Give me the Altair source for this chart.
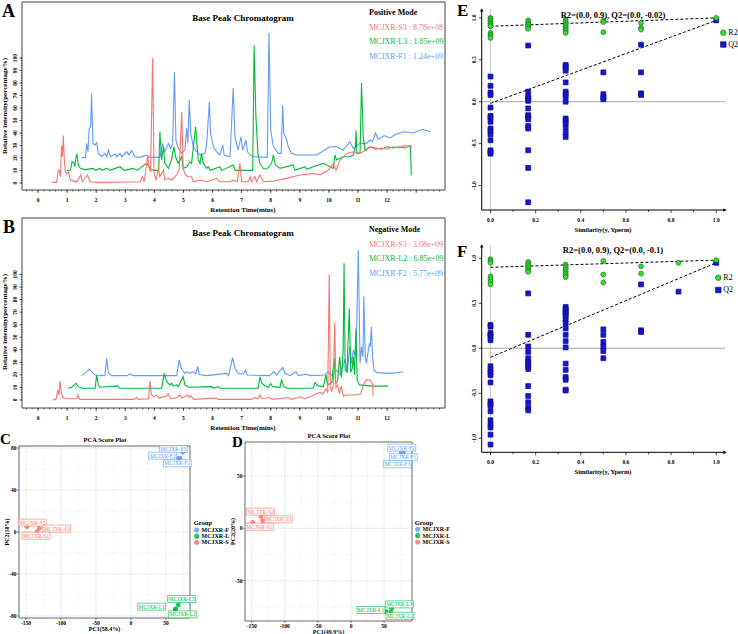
import altair as alt
import pandas as pd

W, H = 738, 634
SERIF = "Liberation Serif"
RED, GREEN, BLUE = "#F8766D", "#00BA38", "#619CFF"

# ---------------- Base peak chromatograms (time in min, relative intensity %) ----------------
# Positive mode
pos_s3_t = [0.47, 0.64, 0.70, 0.73, 0.77, 0.81, 0.84, 0.87, 0.90, 0.94, 0.99, 1.05, 1.11, 1.33, 1.47, 1.52, 1.70, 1.79,
            2.13, 3.51, 3.59, 3.65, 3.73, 3.77, 3.81, 3.87, 3.94, 3.99, 4.06, 4.14, 4.19, 4.31, 4.36, 4.48, 4.59, 4.77,
            4.86, 4.94, 4.99, 5.05, 5.13, 5.28, 5.34, 5.57, 5.80, 6.14, 6.25, 6.60, 6.71, 6.85, 6.94, 7.00, 7.23, 7.29,
            7.34, 7.46, 7.51, 7.63, 7.74, 8.09, 8.55, 9.00, 9.46, 9.69, 9.98, 10.15, 10.24, 10.38, 10.61, 10.84, 11.07,
            11.29, 11.41, 11.6, 11.8, 12.0, 12.2, 12.4, 12.6, 12.85]
pos_s3_i = [0.5, 0.5, 10.4, 9.9, 5, 30, 21, 38, 21, 9, 7, 9, 2.4, 0.8, 6.4, 1, 6.4, 1,
            0.5, 1, 5, 1, 14.4, 22.4, 13, 9, 100, 7.7, 2.4, 11.7, 5, 10.4, 2.4, 3.7, 2.4, 6.4,
            11.7, 57, 11.7, 7.7, 5, 5, 1, 2.4, 1, 3.7, 1, 1, 2.4, 1, 15.7, 1, 1, 5,
            1, 5, 1, 6.4, 1, 1.6, 3.7, 6.4, 7.7, 6.4, 10.4, 15.7, 10, 18.4, 23.7, 25, 23.7,
            26.4, 29, 27, 28, 27, 29, 28, 30, 29]
pos_l3_t = [0.99, 1.12, 1.17, 1.23, 1.26, 1.31, 1.34, 1.39, 1.47, 1.62, 1.90, 1.97, 2.13, 2.20, 2.36, 2.47, 2.82, 2.96,
            3.28, 3.41, 3.73, 3.85, 3.96, 4.15, 4.19, 4.25, 4.31, 4.36, 4.48, 4.59, 4.67, 4.73, 4.82, 4.94, 4.99, 5.11,
            5.22, 5.28, 5.34, 5.42, 5.45, 5.51, 5.57, 5.62, 5.68, 5.80, 5.85, 5.93, 6.25, 6.32, 6.71, 6.78, 7.38, 7.43,
            7.49, 7.56, 7.63, 7.74, 7.86, 8.03, 8.09, 8.16, 8.32, 8.77, 8.84, 9.18, 9.24, 9.46, 9.81, 10.03, 10.15,
            10.21, 10.26, 10.49, 10.72, 10.84, 10.91, 10.93, 10.96, 11.07, 11.12, 11.18, 11.24, 11.41, 11.6, 11.8,
            12.0, 12.2, 12.4, 12.6, 12.8, 12.83]
pos_l3_i = [10.1, 10.4, 17, 16.5, 13, 21, 23.2, 13.6, 11.5, 10.7, 11.7, 10.1, 11.7, 10.1, 11.7, 10.1, 13, 10.1,
            11.7, 10.1, 15.7, 11.7, 10.1, 10.1, 41, 18.4, 29, 15.7, 11.7, 18.4, 29, 21, 15.7, 21, 11.7, 13,
            17, 15.7, 29, 45, 34.4, 18.4, 15.7, 23.7, 15.7, 11.7, 13, 10.1, 13, 10.1, 14.4, 10.1, 10.1, 110,
            53, 23.7, 15.7, 11.7, 11, 15.7, 22.4, 14.4, 11.7, 14.4, 10.1, 13, 11, 13, 15.7, 13, 11.7,
            22.4, 18.4, 21, 21, 22.4, 29, 42, 23.7, 23.7, 80, 37, 26.4, 29, 28, 27, 29,
            28, 29, 28, 30, 6]
pos_f1_t = [1.50, 1.63, 1.67, 1.72, 1.76, 1.81, 1.84, 1.89, 1.96, 2.02, 2.07, 2.19, 2.30, 2.36, 2.42, 2.49, 2.65, 2.70,
            2.82, 2.88, 3.05, 3.12, 3.22, 3.33, 3.51, 3.73, 3.85, 4.19, 4.28, 4.36, 4.48, 4.56, 4.63, 4.69, 4.74, 4.82,
            4.94, 5.05, 5.11, 5.15, 5.20, 5.25, 5.34, 5.45, 5.57, 5.74, 5.80, 5.89, 5.93, 6.03, 6.14, 6.25, 6.35, 6.40,
            6.60, 6.71, 6.77, 6.88, 6.98, 7.03, 7.15, 7.20, 7.29, 7.40, 7.88, 7.94, 8.00, 8.09, 8.26, 8.36, 8.41, 8.45,
            8.55, 8.60, 8.72, 8.89, 9.58, 10.03, 10.26, 10.49, 10.72, 10.84, 11.07, 11.29, 11.41, 11.5, 11.6, 11.7,
            11.9, 12.1, 12.3, 12.6, 12.9, 13.2, 13.5]
pos_f1_i = [20.3, 20.3, 31.7, 25, 43.7, 45, 71, 31.7, 30.4, 32.3, 23.7, 21, 23.7, 21, 26.4, 21, 23.2, 21,
            23.7, 21, 25, 22.4, 25.9, 21, 20.5, 22.4, 20.5, 20.5, 31.7, 25, 31.7, 27.7, 31.7, 89, 34.4, 27.7,
            23.7, 26.4, 43.7, 31.7, 66.4, 39.7, 29, 25, 22.4, 23.7, 31.7, 65, 39.7, 29, 25, 22.4, 30.4, 22.4,
            21, 76, 37, 26.4, 37, 26.4, 34.4, 25, 22.4, 21, 20.5, 120, 42.4, 29, 23.7, 23.7, 62, 39.7,
            34.4, 29, 23.7, 22.4, 22.4, 29, 29, 26.4, 33, 27.7, 31.7, 31.7, 34.4, 33, 40, 35,
            38, 36, 39, 41, 40, 43, 41]

# Negative mode
neg_s3_t = [0.50, 0.62, 0.68, 0.72, 0.76, 0.80, 0.85, 1.00, 1.33, 1.38, 1.43, 3.30, 3.39, 3.45, 3.80, 3.85, 3.90, 4.00,
            4.07, 4.15, 4.40, 4.47, 4.55, 4.80, 4.86, 4.95, 5.15, 5.20, 5.25, 5.35, 6.10, 6.20, 7.35, 7.45, 7.55, 7.63,
            7.70, 7.95, 8.05, 8.60, 8.70, 9.05, 9.15, 9.40, 9.55, 9.70, 9.80, 9.90, 9.96, 10.01, 10.05, 10.10, 10.15,
            10.20, 10.24, 10.30, 10.36, 10.42, 10.50, 10.60, 10.90, 11.10, 11.18, 11.28, 11.40, 11.50, 11.52]
neg_s3_i = [0, 0.5, 8, 4, 15, 6, 2, 1, 1, 4, 0.5, 0.5, 2, 0.5, 1, 15, 4, 2.5,
            4, 1.5, 3, 5, 1, 2, 4, 1.5, 4, 2, 3.5, 0.5, 1.5, 0.5, 0.5, 2, 1, 4,
            1, 2, 0.5, 2, 0.5, 2.5, 1, 3, 5, 6, 5, 9, 6, 100, 10, 7, 12,
            62, 10, 12, 5, 11, 3, 4, 4, 5, 12, 16, 16, 13, 3]
neg_l2_t = [1.04, 1.16, 1.24, 1.31, 1.39, 1.50, 1.96, 2.02, 2.07, 2.13, 2.73, 2.82, 4.25, 4.34, 4.42, 4.54, 4.59, 4.65,
            4.77, 4.82, 4.99, 5.05, 5.17, 5.97, 6.03, 6.20, 6.25, 7.57, 7.63, 7.69, 7.80, 7.92, 8.00, 8.06, 8.32, 8.37,
            8.43, 8.55, 9.46, 9.52, 9.63, 9.81, 9.90, 9.95, 10.03, 10.10, 10.18, 10.23, 10.30, 10.37, 10.43, 10.49,
            10.52, 10.56, 10.62, 10.70, 10.75, 10.80, 10.84, 10.88, 10.93, 10.97, 11.05, 11.5, 12.04]
neg_l2_i = [9.3, 10.1, 12, 13.3, 10.6, 9.3, 9.3, 19.9, 12, 10.1, 11.2, 9.3, 9.3, 21.2, 14.6, 12, 13.3, 11.2,
            12, 10.6, 18.6, 12, 10.1, 10.6, 9.3, 10.6, 9.3, 9.3, 18.6, 13.3, 11.2, 10.1, 13.3, 10.6, 10.1, 16.5,
            11.2, 9.3, 9.3, 13.8, 11.2, 10.6, 20, 12, 13, 14, 33, 13, 15, 34.5, 18, 40,
            109, 24, 22, 73, 22, 25, 34.5, 20, 57, 16, 12, 11, 11]
neg_f2_t = [1.50, 1.67, 1.76, 1.84, 1.96, 2.30, 2.36, 2.42, 2.53, 3.05, 3.16, 3.28, 4.77, 4.85, 4.94, 5.05, 5.11, 5.22,
            5.34, 5.42, 5.49, 5.54, 5.80, 6.48, 6.55, 6.69, 6.77, 6.88, 7.06, 7.14, 7.19, 7.97, 8.11, 8.20, 8.41, 8.49,
            8.66, 8.87, 8.95, 9.23, 9.35, 9.86, 9.98, 10.06, 10.26, 10.38, 10.55, 10.63, 10.72, 10.78, 10.84, 10.91,
            10.95, 11.01, 11.07, 11.12, 11.17, 11.20, 11.25, 11.29, 11.39, 11.42, 11.46, 11.50, 11.55, 11.64, 12.09,
            12.55]
neg_f2_i = [19.4, 22.6, 24.4, 22.6, 19.9, 19.4, 33.2, 21.8, 19.4, 19.4, 20.7, 19.4, 19.4, 31.9, 24.4, 21.2, 22.6, 21.2,
            22.6, 20.7, 26.6, 20.2, 19.4, 21.2, 19.4, 33.7, 25.2, 21.2, 20.5, 23.9, 19.9, 19.4, 22.6, 19.9, 26, 21.2,
            19.4, 22.6, 19.4, 20.5, 19.4, 19.9, 22.6, 19.4, 23.9, 20, 31.9, 22.6, 42.5, 29.2, 39.8, 34.5,
            53.1, 119.5, 29.2, 42.5, 34.5, 82.4, 34.5, 29.2, 45.1, 42.5, 58.4, 34.5, 23.9, 21.8, 21.2,
            22.3]

# ---------------- PCA scores ----------------
groups = ["MCJXR-F", "MCJXR-L", "MCJXR-S"]
pca_group = ["MCJXR-F"] * 3 + ["MCJXR-L"] * 3 + ["MCJXR-S"] * 3
pos_sample = ["MCJXR-F3", "MCJXR-F2", "MCJXR-F1", "MCJXR-L3", "MCJXR-L1", "MCJXR-L2", "MCJXR-S2", "MCJXR-S3", "MCJXR-S1"]
pos_pc1 = [73.9, 70.0, 67.6, 67.6, 63.8, 63.1, -149.0, -131.0, -134.0]
pos_pc2 = [75.9, 70.2, 70.0, -69.5, -73.3, -74.3, 5.0, 3.5, 0.3]
pos_lab1 = [60.5, 45.2, 66.2, 72.4, 29.5, 73.8, -141.0, -106.2, -135.7]
pos_lab2 = [79.0, 72.7, 65.4, -63.8, -71.1, -78.4, 8.9, 3.2, -3.5]
neg_sample = ["MCJXR-F2", "MCJXR-F1", "MCJXR-F3", "MCJXR-L3", "MCJXR-L1", "MCJXR-L2", "MCJXR-S2", "MCJXR-S3", "MCJXR-S1"]
neg_pc1 = [75.5, 79.0, 77.5, 61.5, 52.9, 60.4, -136.0, -133.4, -148.5]
neg_pc2 = [72.3, 72.6, 71.0, -76.5, -79.7, -80.3, 11.0, 7.0, 5.7]
neg_lab1 = [76.6, 79.0, 70.0, 73.0, 30.2, 74.0, -136.4, -109.8, -138.5]
neg_lab2 = [77.1, 67.9, 61.2, -72.7, -78.1, -83.6, 15.9, 8.6, 1.5]

# ---------------- Permutation tests ----------------
perm_series = ["R2", "Q2"]
perm_sim = [0.0, 0.167, 0.333, 0.5, 0.667, 0.833, 1.0]
pos_r2 = [[1.0, 0.99, 0.97, 0.96, 0.94, 0.93, 0.91, 0.90, 0.82, 0.80, 0.78, 0.76],
          [0.97, 0.95, 0.93, 0.92, 0.90, 0.88, 0.87],
          [0.98, 0.96, 0.94, 0.92, 0.90, 0.88, 0.86, 0.84, 0.82],
          [0.97, 0.95, 0.83],
          [0.94, 0.88, 0.86],
          [],
          [1.0]]
pos_q2 = [[0.30, 0.19, 0.11, 0.08, -0.07, -0.17, -0.19, -0.24, -0.32, -0.35, -0.39, -0.46, -0.58, -0.60, -0.62],
          [0.67, 0.12, 0.06, 0.04, 0.01, -0.08, -0.16, -0.18, -0.21, -0.29, -0.32, -0.58, -0.79, -1.20],
          [0.44, 0.42, 0.40, 0.37, 0.23, 0.12, 0.09, 0.06, 0.00, -0.20, -0.23, -0.26, -0.31, -0.37, -0.42],
          [0.35, 0.09, 0.05, 0.03],
          [0.68, 0.35, 0.10, 0.08],
          [],
          [0.97]]
pos_fit = {"R2": (0.90, 1.0), "Q2": (-0.02, 0.97)}
neg_r2 = [[0.99, 0.97, 0.95, 0.80, 0.77, 0.74, 0.71],
          [0.96, 0.94, 0.92, 0.90, 0.88, 0.86, 0.85],
          [0.93, 0.91, 0.89, 0.87, 0.85, 0.83, 0.81, 0.79],
          [0.97, 0.82, 0.73],
          [0.91, 0.83],
          [0.95],
          [0.98]]
neg_q2 = [[0.26, 0.24, 0.17, 0.15, 0.13, 0.09, -0.20, -0.24, -0.27, -0.30, -0.38, -0.59, -0.62, -0.64, -0.70,
           -0.80, -0.85, -0.88, -0.96, -1.07],
          [0.61, 0.15, 0.02, -0.04, -0.11, -0.15, -0.17, -0.20, -0.23, -0.42, -0.53, -0.60, -0.66, -0.69],
          [0.46, 0.44, 0.42, 0.40, 0.38, 0.36, 0.32, 0.28, 0.22, 0.15, 0.08, 0.01, -0.17, -0.24, -0.32, -0.35,
           -0.46, -0.47],
          [0.21, 0.15, 0.07, 0.02, -0.03, -0.11],
          [0.71, 0.20, 0.18],
          [0.63],
          [0.95]]
neg_fit = {"R2": (0.90, 0.98), "Q2": (-0.10, 0.95)}

# tick positions and their printed labels
ch_minor = [round(k * 0.2, 1) for k in range(-2, 70)]
ch_major = list(range(0, 14))
ch_xlab = list(range(0, 13))
ch_yminor = list(range(0, 101, 2))
ch_ymajor = list(range(0, 101, 10))
pca_xmaj = [-150, -100, -50, 0, 50]
pca_xmin = [-125, -75, -25, 25, 75]
perm_xmaj = [0.0, 0.2, 0.4, 0.6, 0.8, 1.0]
perm_xmin = [0.1, 0.3, 0.5, 0.7, 0.9]
perm_yticks = [-1.0, -0.5, 0.0, 0.5, 1.0]


# ---------------- helpers ----------------
def sc(dom, rng):
    return alt.Scale(domain=dom, range=rng, nice=False, zero=False)


def txt(s, x, y, size, weight="bold", color="black", align="center", angle=0, baseline="middle"):
    kw = dict(font=SERIF, fontSize=size, fontWeight=weight, color=color, align=align, baseline=baseline)
    if angle:
        kw["angle"] = angle
    return alt.Chart(pd.DataFrame({"s": [s]})).mark_text(**kw).encode(
        x=alt.value(x), y=alt.value(y), text="s:N")


def frame(x0, x1, y0, y1, color="#333333", width=1.0):
    return alt.Chart(pd.DataFrame({"k": [0]})).mark_rect(
        fill="transparent", stroke=color, strokeWidth=width).encode(
        x=alt.value(x0), x2=alt.value(x1), y=alt.value(y0), y2=alt.value(y1))


def hline(x0, x1, y, color="black", width=1.0):
    return alt.Chart(pd.DataFrame({"k": [0]})).mark_rule(color=color, strokeWidth=width).encode(
        x=alt.value(x0), x2=alt.value(x1), y=alt.value(y))


def vline(x, y0, y1, color="black", width=1.0):
    return alt.Chart(pd.DataFrame({"k": [0]})).mark_rule(color=color, strokeWidth=width).encode(
        x=alt.value(x), y=alt.value(y0), y2=alt.value(y1))


def xticks(vals, xs, y, length, color="black", width=0.6):
    return alt.Chart(pd.DataFrame({"v": vals})).mark_rule(color=color, strokeWidth=width).encode(
        x=alt.X("v:Q", scale=xs, axis=None), y=alt.value(y), y2=alt.value(y + length))


def yticks(vals, ys, x, length, color="black", width=0.6):
    return alt.Chart(pd.DataFrame({"v": vals})).mark_rule(color=color, strokeWidth=width).encode(
        y=alt.Y("v:Q", scale=ys, axis=None), x=alt.value(x - length), x2=alt.value(x))


def xlabels(vals, texts, xs, y, size=5.5):
    df = pd.DataFrame({"v": vals, "s": texts})
    return alt.Chart(df).mark_text(font=SERIF, fontSize=size, fontWeight="bold", baseline="middle").encode(
        x=alt.X("v:Q", scale=xs, axis=None), y=alt.value(y), text="s:N")


def ylabels(vals, texts, ys, x, size=5.5, rotate=False):
    df = pd.DataFrame({"v": vals, "s": texts})
    if rotate:
        mk = alt.Chart(df).mark_text(font=SERIF, fontSize=size, fontWeight="bold", angle=270,
                                     align="center", baseline="middle")
    else:
        mk = alt.Chart(df).mark_text(font=SERIF, fontSize=size, fontWeight="bold", align="right",
                                     baseline="middle")
    return mk.encode(y=alt.Y("v:Q", scale=ys, axis=None), x=alt.value(x), text="s:N")


# ---------------- chromatogram panels ----------------
CH_X0, CH_X1 = 22, 445
CH_XDOM = [-0.55, 13.99]


def chromatogram(traces, ydom, y0, y1, title_y, mode, mode_lines, mode_y):
    xs = sc(CH_XDOM, [CH_X0, CH_X1])
    ys = sc(ydom, [y1, y0])
    layers = [frame(CH_X0, CH_X1, y0, y1, "#444444", 1.0)]
    for t, v, color in traces:
        df = pd.DataFrame({"t": t, "v": v})
        layers.append(alt.Chart(df).mark_line(color=color, strokeWidth=1.1).encode(
            x=alt.X("t:Q", scale=xs, axis=None), y=alt.Y("v:Q", scale=ys, axis=None)))
    layers += [
        xticks(ch_minor, xs, y1, 1.5), xticks(ch_major, xs, y1, 3),
        xlabels(ch_xlab, [str(v) for v in ch_xlab], xs, y1 + 10),
        txt("Retention Time(mins)", 243, y1 + 20, 7),
        yticks(ch_yminor, ys, CH_X0, 1.2), yticks(ch_ymajor, ys, CH_X0, 2.5),
        ylabels(ch_ymajor, [str(v) for v in ch_ymajor], ys, 15, rotate=True),
        txt("Relative intensity(percentage%)", 5, y0 + 104, 7, angle=270),
        txt("Base Peak Chromatogram", 243, title_y, 9),
        txt(mode, 369, mode_y, 8, align="left"),
    ]
    for j, (s, color) in enumerate(mode_lines):
        layers.append(txt(s, 369, mode_y + 14.5 * (j + 1), 8, weight="normal", color=color, align="left"))
    return alt.layer(*layers)


panel_a = chromatogram(
    [(pos_f1_t, pos_f1_i, BLUE), (pos_l3_t, pos_l3_i, GREEN), (pos_s3_t, pos_s3_i, RED)],
    [-5.6, 144.8], 2, 190, 18, "Positive Mode",
    [("MCJXR-S3 : 8.78e+08", RED), ("MCJXR-L3 : 1.85e+09", GREEN), ("MCJXR-F1 : 1.24e+09", BLUE)], 13)
panel_b = chromatogram(
    [(neg_f2_t, neg_f2_i, BLUE), (neg_l2_t, neg_l2_i, GREEN), (neg_s3_t, neg_s3_i, RED)],
    [-6.4, 145.0], 218, 408, 233, "Negative Mode",
    [("MCJXR-S3 : 3.08e+09", RED), ("MCJXR-L2 : 6.85e+09", GREEN), ("MCJXR-F2 : 5.77e+09", BLUE)], 230)


# ---------------- PCA panels ----------------
BOX = "M-1,-0.25L1,-0.25L1,0.25L-1,0.25Z"
GROUP_SCALE = alt.Scale(domain=groups, range=[BLUE, GREEN, RED])


def pca(sample, pc1, pc2, lab1, lab2, xdom, x0, x1, ydom, y0, y1, ymaj, ymin, xtitle, ytitle, title_x):
    xs = sc(xdom, [x0, x1])
    ys = sc(ydom, [y1, y0])
    df = pd.DataFrame({"g": pca_group, "s": sample, "x": pc1, "y": pc2, "lx": lab1, "ly": lab2})
    layers = []
    for vals, col, wd in [(pca_xmin, "#F2F2F2", 0.5), (pca_xmaj, "#E4E4E4", 0.7)]:
        layers.append(alt.Chart(pd.DataFrame({"v": vals})).mark_rule(color=col, strokeWidth=wd).encode(
            x=alt.X("v:Q", scale=xs, axis=None), y=alt.value(y0), y2=alt.value(y1)))
    for vals, col, wd in [(ymin, "#F2F2F2", 0.5), (ymaj, "#E4E4E4", 0.7)]:
        layers.append(alt.Chart(pd.DataFrame({"v": vals})).mark_rule(color=col, strokeWidth=wd).encode(
            y=alt.Y("v:Q", scale=ys, axis=None), x=alt.value(x0), x2=alt.value(x1)))
    layers.append(frame(x0, x1, y0, y1, "#444444", 0.8))
    layers += [
        xticks(pca_xmaj, xs, y1, 2, "#333333"),
        xlabels(pca_xmaj, [str(v) for v in pca_xmaj], xs, y1 + 5),
        txt(xtitle, (x0 + x1) / 2, y1 + 10.5, 6),
        yticks(ymaj, ys, x0, 2, "#333333"),
        ylabels(ymaj, [str(v) for v in ymaj], ys, x0 - 2.5),
        txt(ytitle, x0 - 12, (y0 + y1) / 2, 6, angle=270),
    ]
    pts = alt.Chart(df).mark_circle(size=24, opacity=0.85).encode(
        x=alt.X("x:Q", scale=xs, axis=None), y=alt.Y("y:Q", scale=ys, axis=None),
        color=alt.Color("g:N", scale=GROUP_SCALE, legend=None))
    boxes = alt.Chart(df).mark_point(shape=BOX, size=784, filled=False, fill="white", fillOpacity=0.85,
                                     strokeWidth=0.6).encode(
        x=alt.X("lx:Q", scale=xs, axis=None), y=alt.Y("ly:Q", scale=ys, axis=None),
        stroke=alt.Stroke("g:N", scale=GROUP_SCALE, legend=None))
    labels = alt.Chart(df).mark_text(font=SERIF, fontSize=5.5, baseline="middle").encode(
        x=alt.X("lx:Q", scale=xs, axis=None), y=alt.Y("ly:Q", scale=ys, axis=None), text="s:N",
        fill=alt.Fill("g:N", scale=GROUP_SCALE, legend=None))
    layers += [pts, boxes, labels, txt("PCA Score Plot", title_x, y0 - 6, 6.5)]
    return alt.layer(*layers)


def pca_legend(x_sym, x_lab, y_title, y_first, y_last):
    # group key: one dot and one name per group, stacked on a point scale
    ysc = alt.Scale(domain=groups, range=[y_first, y_last], padding=0)
    df = pd.DataFrame({"g": groups})
    sym = alt.Chart(df).mark_circle(size=26, opacity=0.85).encode(
        x=alt.value(x_sym), y=alt.Y("g:N", scale=ysc, axis=None),
        color=alt.Color("g:N", scale=GROUP_SCALE, legend=None))
    lab = alt.Chart(df).mark_text(font=SERIF, fontSize=6, fontWeight="bold", align="left",
                                  baseline="middle").encode(
        x=alt.value(x_lab), y=alt.Y("g:N", scale=ysc, axis=None), text="g:N")
    return alt.layer(txt("Group", x_sym - 3, y_title, 6.5, align="left"), sym, lab)


panel_c = pca(pos_sample, pos_pc1, pos_pc2, pos_lab1, pos_lab2, [-160.0, 84.3], 19, 190, [-81.9, 81.9], 446, 618,
              [-80, -40, 0, 40, 80], [-60, -20, 20, 60], "PC1(58.4%)", "PC2(18%)", 105)
panel_d = pca(neg_sample, neg_pc1, neg_pc2, neg_lab1, neg_lab2, [-160.1, 92.1], 245, 412, [-88.6, 82.5], 442, 621,
              [-50, 0, 50], [-75, -25, 25, 75], "PC1(49.9%)", "PC2(20%)", 329)
legend_c = pca_legend(196.7, 201.5, 523.3, 530, 542.3)
legend_d = pca_legend(417.7, 422.5, 522.7, 529.3, 542)


# ---------------- permutation panels ----------------
P_X0, P_X1 = 481.7, 725
P_XDOM = [-0.039, 1.039]
PERM_FILL = alt.Scale(domain=perm_series, range=["#33DD33", "#1414D2"])
PERM_STROKE = alt.Scale(domain=perm_series, range=["#1E7A1E", "#10108C"])
PERM_SHAPE = alt.Scale(domain=perm_series, range=["circle", "square"])


def permutation(r2, q2, fit, ydom, y0, y1, title, title_y):
    xs = sc(P_XDOM, [P_X0, P_X1])
    ys = sc(ydom, [y1, y0])
    rows = []
    for x, vals in zip(perm_sim, q2):
        rows += [{"x": x, "y": v, "s": "Q2"} for v in vals]
    for x, vals in zip(perm_sim, r2):
        rows += [{"x": x, "y": v, "s": "R2"} for v in vals]
    df = pd.DataFrame(rows)
    zero_h = alt.Chart(pd.DataFrame({"v": [0.0]})).mark_rule(color="#A8A8A8", strokeWidth=1).encode(
        y=alt.Y("v:Q", scale=ys, axis=None), x=alt.value(P_X0), x2=alt.value(P_X1))
    zero_v = alt.Chart(pd.DataFrame({"v": [0.0]})).mark_rule(color="#CFCFCF", strokeWidth=1.2).encode(
        x=alt.X("v:Q", scale=xs, axis=None), y=alt.value(y0), y2=alt.value(y1))
    fit_df = pd.DataFrame({"x": [0.0, 1.0, 0.0, 1.0],
                           "y": [fit["R2"][0], fit["R2"][1], fit["Q2"][0], fit["Q2"][1]],
                           "k": ["R2", "R2", "Q2", "Q2"]})
    fits = alt.Chart(fit_df).mark_line(color="black", strokeWidth=1, strokeDash=[3, 2]).encode(
        x=alt.X("x:Q", scale=xs, axis=None), y=alt.Y("y:Q", scale=ys, axis=None), detail="k:N")
    pts = alt.Chart(df).mark_point(filled=True, size=24, strokeWidth=0.7, opacity=1).encode(
        x=alt.X("x:Q", scale=xs, axis=None), y=alt.Y("y:Q", scale=ys, axis=None),
        fill=alt.Fill("s:N", scale=PERM_FILL, legend=None),
        stroke=alt.Stroke("s:N", scale=PERM_STROKE, legend=None),
        shape=alt.Shape("s:N", scale=PERM_SHAPE, legend=None))
    arrow_up = alt.Chart(pd.DataFrame({"k": [0]})).mark_point(
        shape="triangle-up", size=14, filled=True, color="black", opacity=1).encode(
        x=alt.value(P_X0), y=alt.value(y0 + 1))
    arrow_right = alt.Chart(pd.DataFrame({"k": [0]})).mark_point(
        shape="triangle-right", size=14, filled=True, color="black", opacity=1).encode(
        x=alt.value(P_X1), y=alt.value(y1))
    axis_layers = [
        vline(P_X0, y0, y1), hline(P_X0, P_X1, y1),
        xticks(perm_xmin, xs, y1, 2, width=0.7), xticks(perm_xmaj, xs, y1, 3, width=0.7),
        xlabels(perm_xmaj, [f"{v:.1f}" for v in perm_xmaj], xs, y1 + 10),
        txt("Similarity(y, Yperm)", 603, y1 + 20, 6.5),
        yticks(perm_yticks, ys, P_X0, 3, width=0.7),
        ylabels(perm_yticks, [f"{v:.1f}" for v in perm_yticks], ys, P_X0 - 8, rotate=True),
    ]
    return alt.layer(zero_h, zero_v, *axis_layers, fits, pts, arrow_up, arrow_right,
                     txt(title, 613, title_y, 8.5))


def perm_legend(x_sym, x_lab, y_first, y_last):
    ysc = alt.Scale(domain=perm_series, range=[y_first, y_last], padding=0)
    df = pd.DataFrame({"s": perm_series})
    sym = alt.Chart(df).mark_point(filled=True, size=30, strokeWidth=0.7, opacity=1).encode(
        x=alt.value(x_sym), y=alt.Y("s:N", scale=ysc, axis=None),
        fill=alt.Fill("s:N", scale=PERM_FILL, legend=None),
        stroke=alt.Stroke("s:N", scale=PERM_STROKE, legend=None),
        shape=alt.Shape("s:N", scale=PERM_SHAPE, legend=None))
    lab = alt.Chart(df).mark_text(font=SERIF, fontSize=8, align="left", baseline="middle").encode(
        x=alt.value(x_lab), y=alt.Y("s:N", scale=ysc, axis=None), text="s:N")
    return alt.layer(sym, lab)


panel_e = permutation(pos_r2, pos_q2, pos_fit, [-1.292, 1.106], 9, 210,
                      "R2=(0.0, 0.9), Q2=(0.0, -0.02)", 15)
panel_f = permutation(neg_r2, neg_q2, neg_fit, [-1.156, 1.148], 245, 452.3,
                      "R2=(0.0, 0.9), Q2=(0.0, -0.1)", 250)
legend_e = perm_legend(723.3, 728.3, 32.7, 44.5)
legend_f = perm_legend(718.3, 723.3, 277.7, 290)

letters = [txt("A", 2, 17, 18, align="left", baseline="alphabetic"),
           txt("B", 3, 233, 18, align="left", baseline="alphabetic"),
           txt("C", 0, 444, 15, align="left", baseline="alphabetic"),
           txt("D", 232, 447, 15, align="left", baseline="alphabetic"),
           txt("E", 457, 16, 17, align="left", baseline="alphabetic"),
           txt("F", 457, 257, 17, align="left", baseline="alphabetic")]

chart = alt.layer(panel_a, panel_b, panel_c, panel_d, legend_c, legend_d, panel_e, panel_f, legend_e, legend_f,
                  *letters).resolve_scale(
    x="independent", y="independent", color="independent", fill="independent", stroke="independent",
    shape="independent").properties(
    width=W, height=H, padding=0, autosize=alt.AutoSizeParams(type="none"), background="white"
).configure_view(stroke="transparent")

chart.save("out.html", embed_options={"renderer": "svg", "actions": False})
